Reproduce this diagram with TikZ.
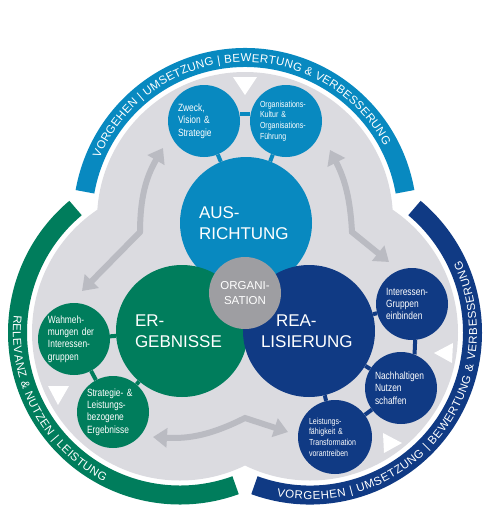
\documentclass[tikz,border=0pt]{standalone}
\usepackage{fontspec}
\setmainfont{Liberation Sans}
\newfontfamily\narrowfont[FakeStretch=0.8]{Liberation Sans}
\usetikzlibrary{positioning,arrows.meta,decorations.text}
\definecolor{ausblue}{RGB}{8,137,192}
\definecolor{erggreen}{RGB}{0,125,92}
\definecolor{reablue}{RGB}{16,58,132}
\definecolor{orggray}{RGB}{158,158,162}
\definecolor{bggray}{RGB}{219,219,224}
\definecolor{arrowgray}{RGB}{186,187,194}
\newcommand{\bigtext}{\fontsize{17}{21}\selectfont}
\newcommand{\orgtext}{\fontsize{11.5}{14.5}\selectfont}
\newcommand{\smalltext}{\narrowfont\fontsize{10.5}{12.4}\selectfont}
\newcommand{\tinytext}{\narrowfont\fontsize{8.8}{10.6}\selectfont}
\newcommand{\bandtext}{\fontsize{11.5}{14}\selectfont}

\begin{document}
\begin{tikzpicture}[x=1pt,y=1pt,node distance=60pt,on grid,
    bigcircle/.style={circle,inner sep=0pt,minimum size=132pt,text=white,font=\bigtext,text width=94pt,align=left},
    smallcircle/.style={circle,inner sep=0pt,minimum size=72pt,text=white,font=\smalltext,text width=52pt,align=left},
    link/.style={line width=4pt},
    cycarrow/.style={draw=arrowgray,line width=6pt,{Triangle[width=19pt,length=14pt]}-{Triangle[width=19pt,length=14pt]}},
    band/.style={line width=19pt},
    bandlabel/.style={decorate,decoration={text along path,text align=fit to path,text color=white}},
    marker/.style={fill=white}]
  \useasboundingbox (0,0) rectangle (500,-523);
  \coordinate (T) at (245,-220);
  \coordinate (L) at (180,-332.5);
  \coordinate (R) at (310,-332.5);
  % outer bands
  \draw[band,ausblue] (T) ++(10:162.5) arc[start angle=10,end angle=170,radius=162.5];
  \draw[band,erggreen] (L) ++(130:162.5) arc[start angle=130,end angle=290,radius=162.5];
  \draw[band,reablue] (R) ++(-110:162.5) arc[start angle=-110,end angle=50,radius=162.5];
  \path[bandlabel,decoration={text={|\bandtext|VORGEHEN {\textbar} UMSETZUNG {\textbar} BEWERTUNG {\&} VERBESSERUNG}}]
    (T) ++(157:158) arc[start angle=157,end angle=28,radius=158];
  \path[bandlabel,decoration={text={|\bandtext|RELEVANZ {\&} NUTZEN {\textbar} LEISTUNG}}]
    (L) ++(174:167) arc[start angle=174,end angle=243,radius=167];
  \path[bandlabel,decoration={text={|\bandtext|VORGEHEN {\textbar} UMSETZUNG {\textbar} BEWERTUNG {\&} VERBESSERUNG}}]
    (R) ++(-101.5:167) arc[start angle=-101.5,end angle=25.5,radius=167];
  % gray field
  \fill[bggray] (T) circle[radius=148] (L) circle[radius=148] (R) circle[radius=148];
  \fill[marker] (233,-77) -- (257,-77) -- (245,-95) -- cycle;
  \fill[marker] (48,-386) -- (69,-386) -- (58,-405) -- cycle;
  \fill[marker] (434,-353) -- (453,-343) -- (452,-363) -- cycle;
  \fill[marker] (383,-433) -- (402,-443) -- (384,-453) -- cycle;
  % cycle arrows
  \coordinate (ltipa) at (82,-291);
  \coordinate (lbend) at (140,-232);
  \coordinate (ltipb) at (163,-148);
  \coordinate (rtipa) at (389,-262);
  \coordinate (rbend) at (352,-232);
  \coordinate (rtipb) at (330,-150);
  \coordinate (btipa) at (288,-432);
  \coordinate (bbend) at (245,-418);
  \coordinate (btipb) at (153,-437);
  \draw[cycarrow] (ltipa) -- (lbend) to[bend left=15] (ltipb);
  \draw[cycarrow] (rtipa) -- (rbend) to[bend right=12] (rtipb);
  \draw[cycarrow] (btipa) -- (bbend) to[bend left=15] (btipb);
  % main circles
  \node[bigcircle,fill=ausblue] (aus) at (246,-223) {AUS-\\RICHTUNG};
  \node[bigcircle,fill=erggreen] (erg) at (182,-331) {ER-\\GEBNISSE};
  \node[bigcircle,fill=reablue,text width=96pt] (rea) at (309,-331) {\hspace*{15pt}REA-\\LISIERUNG};
  \node[circle,fill=orggray,minimum size=72pt,inner sep=0pt,text=white,font=\orgtext,align=center] (org) at (245,-293) {ORGANI-\\SATION};
  % small circles
  \node[smallcircle,fill=ausblue,above left=102pt and 42pt of aus] (zweck) {Zweck,\\Vision \&\\Strategie};
  \node[smallcircle,fill=ausblue,font=\tinytext,above right=102pt and 40pt of aus] (kultur) {Organisations-\\Kultur \&\\Organisations-\\Führung};
  \node[smallcircle,fill=erggreen,below left=8pt and 108pt of erg] (wahrn) {Wahmeh-\\mungen der\\Interessen-\\gruppen};
  \node[smallcircle,fill=erggreen,below left=81pt and 69pt of erg] (strat) {Strategie- \&\\Leistungs-\\bezogene\\Ergebnisse};
  \node[smallcircle,fill=reablue,above right=27pt and 103pt of rea] (inter) {Interessen-\\Gruppen\\einbinden};
  \node[smallcircle,fill=reablue,below right=57pt and 92pt of rea] (nutzen) {Nachhaltigen\\Nutzen\\schaffen};
  \node[smallcircle,fill=reablue,font=\tinytext,minimum size=74pt,below right=106pt and 26pt of rea] (leist) {Leistungs-\\fähigkeit \&\\Transformation\\vorantreiben};
  \path[link,ausblue]
    (zweck.11) edge (kultur.169)
    (zweck) edge (aus)
    (kultur) edge (aus)
    ;
  \path[link,erggreen]
    (wahrn) edge (erg)
    (wahrn) edge (strat)
    (strat) edge (erg)
    ;
  \path[link,reablue]
    (inter) edge (rea)
    (inter.-85) edge (nutzen.68)
    (nutzen) edge (rea)
    (nutzen) edge (leist)
    (leist) edge (rea)
    ;
\end{tikzpicture}
\end{document}
